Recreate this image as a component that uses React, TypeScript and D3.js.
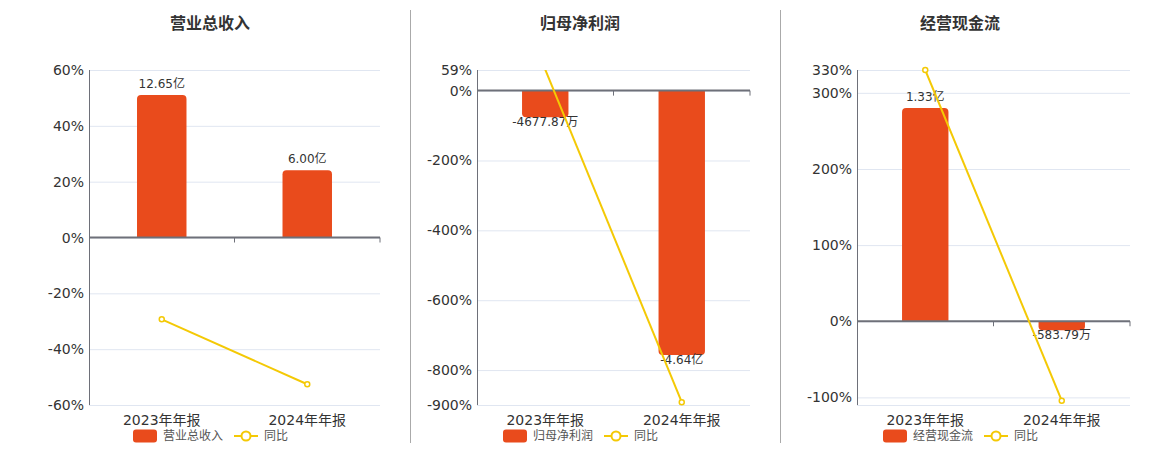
import React from 'react';
import * as d3 from 'd3';

// report periods
const categories = ['2023年年报', '2024年年报'];

// 营业总收入 (亿) and yoy (%)
const revenue = [12.65, 6.0];
const revenueYoy = [-29.3, -52.57];
const revenueLabels = ['12.65亿', '6.00亿'];
const revenueTicks = [60, 40, 20, 0, -20, -40, -60];
const revenuePctDomain = [-60, 60];
const revenueBarDomain = [-14.77, 14.86];

// 归母净利润 (亿) and yoy (%)
const netProfit = [-0.467787, -4.64];
const netProfitYoy = [60.2, -891.9];
const netProfitLabels = ['-4677.87万', '-4.64亿'];
const netProfitTicks = [59, 0, -200, -400, -600, -800, -900];
const netProfitPctDomain = [-900, 59];
const netProfitBarDomain = [-5.52, 0.364];

// 经营现金流 (亿) and yoy (%)
const cashFlow = [1.33, -0.058379];
const cashFlowYoy = [330, -104.39];
const cashFlowLabels = ['1.33亿', '-583.79万'];
const cashFlowTicks = [330, 300, 200, 100, 0, -100];
const cashFlowPctDomain = [-110, 330];
const cashFlowBarDomain = [-0.525, 1.568];

const FONT = '"DejaVu Sans", "Noto Sans CJK SC", sans-serif';
const BAR = '#E94B1C';
const LINE = '#F4C905';
const AXIS = '#6E7079';
const GRID = '#E0E6F1';
const TEXT = '#333';

const TOP = 70;
const BOTTOM = 405;

interface PanelProps {
  id: string;
  title: string;
  center: number;
  left: number;
  right: number;
  bars: number[];
  yoy: number[];
  labels: string[];
  ticks: number[];
  pctDomain: number[];
  barDomain: number[];
}

// bar with rounded corners on the end away from zero
function barPath(x: number, w: number, y0: number, y1: number, r: number) {
  const h = Math.abs(y1 - y0);
  const rr = Math.min(r, h / 2, w / 2);
  if (y1 < y0) {
    return `M${x},${y0}V${y1 + rr}Q${x},${y1} ${x + rr},${y1}H${x + w - rr}Q${x + w},${y1} ${x + w},${y1 + rr}V${y0}Z`;
  }
  return `M${x},${y0}V${y1 - rr}Q${x},${y1} ${x + rr},${y1}H${x + w - rr}Q${x + w},${y1} ${x + w},${y1 - rr}V${y0}Z`;
}

const Panel: React.FC<PanelProps> = ({ id, title, center, left, right, bars, yoy, labels, ticks, pctDomain, barDomain }) => {
  const x = d3.scaleBand<string>().domain(categories).range([left, right]).paddingInner(0).paddingOuter(0);
  const yPct = d3.scaleLinear().domain(pctDomain).range([BOTTOM, TOP]);
  const yBar = d3.scaleLinear().domain(barDomain).range([BOTTOM, TOP]);
  const zero = yPct(0);
  const bw = x.bandwidth() * 0.34;

  const line = d3.line<number>()
    .x((_, i) => (x(categories[i]) as number) + x.bandwidth() / 2)
    .y(d => yPct(d));

  const gridVals = ticks.includes(pctDomain[0]) ? ticks : [...ticks, pctDomain[0]];

  return (
    <g>
      <defs>
        <clipPath id={`clip-${id}`}>
          <rect x={left} y={TOP} width={right - left} height={BOTTOM - TOP} />
        </clipPath>
      </defs>
      <text x={center} y={23} textAnchor="middle" dominantBaseline="central" fontSize={16} fontWeight="bold" fill={TEXT}>{title}</text>

      {gridVals.map(t => (
        <line key={`g${t}`} x1={left} x2={right} y1={yPct(t) + 0.5} y2={yPct(t) + 0.5} stroke={GRID} />
      ))}
      {ticks.map(t => (
        <text key={`t${t}`} x={left - 5} y={yPct(t)} textAnchor="end" dominantBaseline="central" fontSize={14} fill={TEXT}>{`${t}%`}</text>
      ))}
      <line x1={left + 0.5} x2={left + 0.5} y1={TOP} y2={BOTTOM} stroke={AXIS} />

      {bars.map((v, i) => {
        const bx = (x(categories[i]) as number) + (x.bandwidth() - bw) / 2;
        return <path key={`b${i}`} d={barPath(bx, bw, yBar(0), yBar(v), 4)} fill={BAR} />;
      })}

      <line x1={left} x2={right} y1={zero} y2={zero} stroke={AXIS} strokeWidth={2} />
      {categories.map(c => (
        <line key={`k${c}`} x1={(x(c) as number) + x.bandwidth()} x2={(x(c) as number) + x.bandwidth()} y1={zero} y2={zero + 5} stroke={AXIS} />
      ))}

      {bars.map((v, i) => {
        const cx = (x(categories[i]) as number) + x.bandwidth() / 2;
        const y = v >= 0 ? yBar(v) - 11 : yBar(v) + 5;
        return <text key={`l${i}`} x={cx} y={y} textAnchor="middle" dominantBaseline="central" fontSize={12} fill={TEXT}>{labels[i]}</text>;
      })}

      <path d={line(yoy) || ''} fill="none" stroke={LINE} strokeWidth={2} clipPath={`url(#clip-${id})`} />
      {yoy.map((v, i) => (v <= pctDomain[1] + 0.5 && v >= pctDomain[0] - 0.5) ? (
        <circle key={`m${i}`} cx={(x(categories[i]) as number) + x.bandwidth() / 2} cy={yPct(v)} r={2.5} fill="#fff" stroke={LINE} strokeWidth={1.5} />
      ) : null)}

      {categories.map(c => (
        <text key={`x${c}`} x={(x(c) as number) + x.bandwidth() / 2} y={420} textAnchor="middle" dominantBaseline="central" fontSize={14} fill={TEXT}>{c}</text>
      ))}

      <g transform={`translate(${center - 77},436)`}>
        <rect x={0} y={-6.5} width={24} height={13} rx={3} fill={BAR} />
        <text x={30} y={0} dominantBaseline="central" fontSize={12} fill="#555">{title}</text>
        <line x1={101} x2={125} y1={0} y2={0} stroke={LINE} strokeWidth={2} />
        <circle cx={113} cy={0} r={4.5} fill="#fff" stroke={LINE} strokeWidth={2} />
        <text x={131} y={0} dominantBaseline="central" fontSize={12} fill="#555">同比</text>
      </g>
    </g>
  );
};

export default function App() {
  return (
    <svg width={1160} height={450} style={{ position: 'absolute', left: 0, top: 0, fontFamily: FONT }}>
      <rect width={1160} height={450} fill="#fff" />
      <Panel id="rev" title="营业总收入" center={210} left={89} right={380}
        bars={revenue} yoy={revenueYoy} labels={revenueLabels} ticks={revenueTicks}
        pctDomain={revenuePctDomain} barDomain={revenueBarDomain} />
      <Panel id="np" title="归母净利润" center={580} left={477} right={750}
        bars={netProfit} yoy={netProfitYoy} labels={netProfitLabels} ticks={netProfitTicks}
        pctDomain={netProfitPctDomain} barDomain={netProfitBarDomain} />
      <Panel id="cf" title="经营现金流" center={960} left={857} right={1130}
        bars={cashFlow} yoy={cashFlowYoy} labels={cashFlowLabels} ticks={cashFlowTicks}
        pctDomain={cashFlowPctDomain} barDomain={cashFlowBarDomain} />
      <line x1={410.5} x2={410.5} y1={10} y2={443} stroke="#aaa" />
      <line x1={780.5} x2={780.5} y1={10} y2={443} stroke="#aaa" />
    </svg>
  );
}
